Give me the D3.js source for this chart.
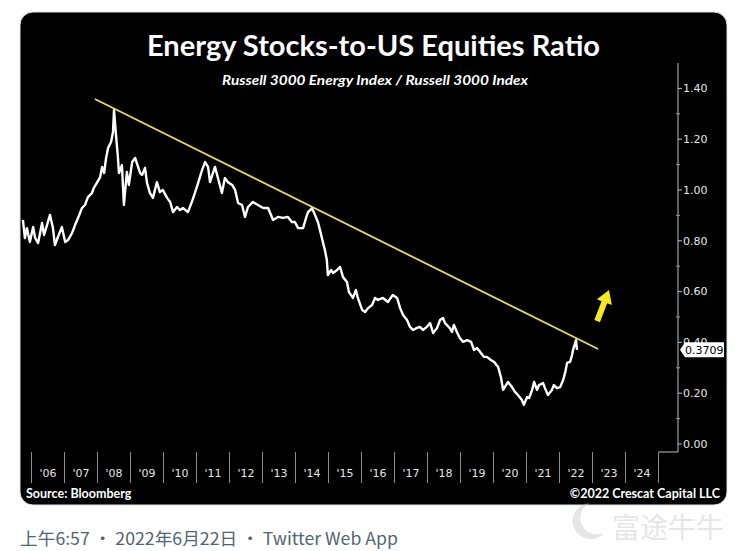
<!DOCTYPE html>
<html>
<head>
<meta charset="utf-8">
<script src="https://cdn.jsdelivr.net/npm/d3@7"></script>
<style>
  body { margin: 0; background: #fff; }
  svg { display: block; }
</style>
</head>
<body>
<svg id="chart" width="750" height="551"></svg>
<script>
// Ratio series (decimal year, ratio)
const dates = [2005.74, 2005.80, 2005.86, 2005.95, 2006.05, 2006.11, 2006.20, 2006.32, 2006.38, 2006.47,
  2006.56, 2006.65, 2006.71, 2006.80, 2006.92, 2007.02, 2007.11, 2007.23, 2007.32, 2007.41,
  2007.53, 2007.62, 2007.71, 2007.83, 2007.89, 2007.98, 2008.08, 2008.14, 2008.20, 2008.26,
  2008.32, 2008.41, 2008.47, 2008.50, 2008.56, 2008.62, 2008.65, 2008.74, 2008.80, 2008.89,
  2008.95, 2009.05, 2009.14, 2009.23, 2009.29, 2009.35, 2009.44, 2009.50, 2009.59, 2009.68,
  2009.80, 2009.89, 2009.98, 2010.11, 2010.20, 2010.29, 2010.41, 2010.50, 2010.59, 2010.74,
  2010.86, 2010.95, 2011.05, 2011.17, 2011.26, 2011.35, 2011.41, 2011.50, 2011.56, 2011.65,
  2011.77, 2011.86, 2011.95, 2012.08, 2012.17, 2012.26, 2012.38, 2012.47, 2012.56, 2012.71,
  2012.86, 2013.02, 2013.17, 2013.32, 2013.47, 2013.62, 2013.77, 2013.89, 2013.98, 2014.08,
  2014.23, 2014.32, 2014.38, 2014.50, 2014.59, 2014.68, 2014.74, 2014.80, 2014.89, 2014.95,
  2014.98, 2015.08, 2015.14, 2015.26, 2015.35, 2015.44, 2015.56, 2015.62, 2015.74, 2015.83,
  2015.89, 2016.02, 2016.11, 2016.20, 2016.32, 2016.41, 2016.50, 2016.65, 2016.80, 2016.95,
  2017.08, 2017.17, 2017.26, 2017.38, 2017.47, 2017.56, 2017.68, 2017.77, 2017.86, 2017.98,
  2018.08, 2018.17, 2018.29, 2018.38, 2018.47, 2018.53, 2018.67, 2018.74, 2018.80, 2018.89,
  2018.98, 2019.08, 2019.20, 2019.32, 2019.41, 2019.50, 2019.62, 2019.71, 2019.80, 2019.92,
  2020.02, 2020.14, 2020.23, 2020.29, 2020.38, 2020.44, 2020.56, 2020.65, 2020.74, 2020.86,
  2020.92, 2021.02, 2021.08, 2021.17, 2021.23, 2021.32, 2021.38, 2021.50, 2021.56, 2021.65,
  2021.77, 2021.83, 2021.92, 2022.02, 2022.11, 2022.17, 2022.23, 2022.32, 2022.38, 2022.41,
  2022.50, 2022.53];
const values = [0.882, 0.811, 0.850, 0.795, 0.854, 0.811, 0.791, 0.870, 0.823, 0.862,
  0.902, 0.850, 0.783, 0.815, 0.854, 0.795, 0.803, 0.831, 0.862, 0.890,
  0.929, 0.941, 0.972, 0.988, 1.008, 1.028, 1.051, 1.091, 1.067, 1.126,
  1.165, 1.189, 1.228, 1.315, 1.217, 1.126, 1.067, 1.098, 0.941, 1.071,
  1.020, 1.110, 1.126, 1.091, 1.067, 1.059, 1.087, 1.028, 0.988, 0.969,
  1.031, 0.992, 1.000, 0.969, 0.953, 0.913, 0.933, 0.921, 0.929, 0.913,
  0.953, 0.988, 1.028, 1.079, 1.110, 1.091, 1.031, 1.067, 1.091, 1.047,
  0.988, 1.047, 1.031, 1.020, 1.000, 0.949, 0.941, 0.894, 0.933, 0.953,
  0.941, 0.929, 0.929, 0.882, 0.894, 0.890, 0.894, 0.874, 0.874, 0.850,
  0.850, 0.890, 0.913, 0.929, 0.902, 0.874, 0.843, 0.811, 0.764, 0.724,
  0.665, 0.685, 0.673, 0.685, 0.697, 0.657, 0.638, 0.598, 0.575, 0.606,
  0.575, 0.528, 0.520, 0.535, 0.547, 0.575, 0.567, 0.575, 0.559, 0.587,
  0.575, 0.535, 0.508, 0.488, 0.461, 0.449, 0.457, 0.461, 0.449, 0.461,
  0.476, 0.437, 0.457, 0.488, 0.496, 0.476, 0.457, 0.441, 0.469, 0.441,
  0.417, 0.402, 0.409, 0.402, 0.370, 0.378, 0.358, 0.343, 0.343, 0.331,
  0.323, 0.303, 0.260, 0.213, 0.232, 0.244, 0.224, 0.205, 0.193, 0.173,
  0.154, 0.185, 0.181, 0.213, 0.244, 0.213, 0.232, 0.240, 0.220, 0.193,
  0.213, 0.232, 0.220, 0.224, 0.252, 0.280, 0.319, 0.323, 0.350, 0.370,
  0.409, 0.371];

const lastValue = 0.3709;

// Axis ticks
const yTicks = [0, 0.2, 0.4, 0.6, 0.8, 1.0, 1.2, 1.4];
const yMinorTicks = [0.1, 0.3, 0.5, 0.7, 0.9, 1.1, 1.3];
const years = [2006, 2007, 2008, 2009, 2010, 2011, 2012, 2013, 2014, 2015,
  2016, 2017, 2018, 2019, 2020, 2021, 2022, 2023, 2024];
const yearLabels = ["'06", "'07", "'08", "'09", "'10", "'11", "'12", "'13", "'14", "'15",
  "'16", "'17", "'18", "'19", "'20", "'21", "'22", "'23", "'24"];

// Yellow resistance line and breakout arrow
const trendDates = [2007.92, 2023.17];
const trendValues = [1.358, 0.374];
const arrowDates = [2023.14, 2023.50];
const arrowValues = [0.484, 0.606];

const svg = d3.select("#chart");

// Black card
svg.append("rect")
  .attr("x", 20).attr("y", 12)
  .attr("width", 707).attr("height", 493)
  .attr("rx", 13)
  .attr("fill", "#000")
  .attr("stroke", "#dfe4e8");

// Scales
const x = d3.scaleLinear().domain([2006, 2025]).range([31.5, 658.5]);
const y = d3.scaleLinear().domain([0, 1.5]).range([444, 63]);
const axisX = 678;
const baseY = 452;

// Title and subtitle
svg.append("text")
  .attr("x", 373.5).attr("y", 56)
  .attr("text-anchor", "middle")
  .attr("textLength", 453).attr("lengthAdjust", "spacingAndGlyphs")
  .style("font-family", "Lato, 'Open Sans', sans-serif")
  .style("font-weight", "bold")
  .style("font-size", "28px")
  .attr("fill", "#fff")
  .text("Energy Stocks-to-US Equities Ratio");

svg.append("text")
  .attr("x", 375).attr("y", 85)
  .attr("text-anchor", "middle")
  .attr("textLength", 306).attr("lengthAdjust", "spacingAndGlyphs")
  .style("font-family", "Lato, 'Open Sans', sans-serif")
  .style("font-weight", "bold")
  .style("font-style", "italic")
  .style("font-size", "13.5px")
  .attr("fill", "#fff")
  .text("Russell 3000 Energy Index / Russell 3000 Index");

// Right axis
const yAxis = svg.append("g").attr("class", "y-axis");
yAxis.append("line")
  .attr("x1", axisX).attr("x2", axisX)
  .attr("y1", y(1.5)).attr("y2", baseY)
  .attr("stroke", "#bdbdbd");
yAxis.append("line")
  .attr("x1", x(2025)).attr("x2", axisX)
  .attr("y1", baseY).attr("y2", baseY)
  .attr("stroke", "#bdbdbd");
yAxis.selectAll(".major")
  .data(yTicks)
  .join("line")
  .attr("class", "major")
  .attr("x1", axisX).attr("x2", axisX + 4)
  .attr("y1", d => y(d)).attr("y2", d => y(d))
  .attr("stroke", "#bdbdbd");
yAxis.selectAll(".minor")
  .data(yMinorTicks)
  .join("line")
  .attr("class", "minor")
  .attr("x1", axisX - 2).attr("x2", axisX + 2)
  .attr("y1", d => y(d)).attr("y2", d => y(d))
  .attr("stroke", "#9a9a9a");
yAxis.selectAll(".lbl")
  .data(yTicks)
  .join("text")
  .attr("class", "lbl")
  .attr("x", axisX + 5)
  .attr("y", d => y(d))
  .attr("dy", "0.35em")
  .style("font-family", "'DejaVu Sans', sans-serif")
  .style("font-size", "11px")
  .attr("fill", "#e6e6e6")
  .text(d => d3.format(".2f")(d));

// Bottom year axis: separators at year starts, labels mid-year
const xAxis = svg.append("g").attr("class", "x-axis");
xAxis.selectAll("line")
  .data(years.concat([2025]))
  .join("line")
  .attr("x1", d => x(d)).attr("x2", d => x(d))
  .attr("y1", baseY).attr("y2", baseY + 31)
  .attr("stroke", "#8c8c8c");
xAxis.selectAll("text")
  .data(years)
  .join("text")
  .attr("x", d => x(d + 0.5))
  .attr("y", baseY + 21)
  .attr("dy", "0.35em")
  .attr("text-anchor", "middle")
  .style("font-family", "'DejaVu Sans', sans-serif")
  .style("font-size", "11px")
  .attr("fill", "#e6e6e6")
  .text((d, i) => yearLabels[i]);

// Ratio line
const series = dates.map((d, i) => ({ date: d, value: values[i] }));
const line = d3.line().x(d => x(d.date)).y(d => y(d.value));
svg.append("path")
  .datum(series)
  .attr("d", line)
  .attr("fill", "none")
  .attr("stroke", "#fff")
  .attr("stroke-width", 2.4)
  .attr("stroke-linejoin", "round");

// Trendline
svg.append("line")
  .attr("x1", x(trendDates[0])).attr("y1", y(trendValues[0]))
  .attr("x2", x(trendDates[1])).attr("y2", y(trendValues[1]))
  .attr("stroke", "#e9dc55")
  .attr("stroke-width", 1.8);

// Arrow
const ax0 = x(arrowDates[0]), ay0 = y(arrowValues[0]);
const ax1 = x(arrowDates[1]), ay1 = y(arrowValues[1]);
const len = Math.hypot(ax1 - ax0, ay1 - ay0);
const ang = Math.atan2(ay1 - ay0, ax1 - ax0) * 180 / Math.PI;
const hl = 13;
svg.append("path")
  .attr("transform", `translate(${ax0},${ay0}) rotate(${ang})`)
  .attr("d", `M0,-3 L${len - hl},-3 L${len - hl},-8 L${len},0 L${len - hl},8 L${len - hl},3 L0,3 Z`)
  .attr("fill", "#f6e81e");

// Last value flag (covers the lower half of the 0.40 label, as in the source)
const ly = y(lastValue);
svg.append("path")
  .attr("d", `M${axisX + 2},${ly} L${axisX + 7},${ly - 7.5} L${axisX + 46},${ly - 7.5} L${axisX + 46},${ly + 7.5} L${axisX + 7},${ly + 7.5} Z`)
  .attr("fill", "#fff");
svg.append("text")
  .attr("x", axisX + 7).attr("y", ly)
  .attr("dy", "0.36em")
  .style("font-family", "'DejaVu Sans', sans-serif")
  .style("font-size", "11px")
  .attr("fill", "#000")
  .text(lastValue.toFixed(4));

// Footer
svg.append("text")
  .attr("x", 26).attr("y", 498)
  .style("font-family", "Lato, sans-serif")
  .style("font-weight", "bold")
  .style("font-size", "12.5px")
  .attr("fill", "#fff")
  .text("Source: Bloomberg");
svg.append("text")
  .attr("x", 720).attr("y", 498)
  .attr("text-anchor", "end")
  .style("font-family", "Lato, sans-serif")
  .style("font-weight", "bold")
  .style("font-size", "12.5px")
  .attr("fill", "#fff")
  .text("©2022 Crescat Capital LLC");

// Tweet timestamp line
svg.append("text")
  .attr("x", 20).attr("y", 545)
  .attr("textLength", 378).attr("lengthAdjust", "spacingAndGlyphs")
  .style("font-family", "'Noto Sans CJK SC', sans-serif")
  .style("font-size", "17px")
  .attr("fill", "#536471")
  .text("上午6:57 · 2022年6月22日 · Twitter Web App");

// Watermark
const wm = svg.append("g").attr("opacity", 0.45);
wm.append("path")
  .attr("d", "M590,503 a18,18 0 1,0 14,30 a12,12 0 1,1 -14,-30 Z")
  .attr("fill", "#c8c8c8");
wm.append("text")
  .attr("x", 612).attr("y", 538)
  .style("font-family", "'Noto Sans CJK SC', sans-serif")
  .style("font-size", "28px")
  .attr("fill", "#c8c8c8")
  .text("富途牛牛");
</script>
</body>
</html>
